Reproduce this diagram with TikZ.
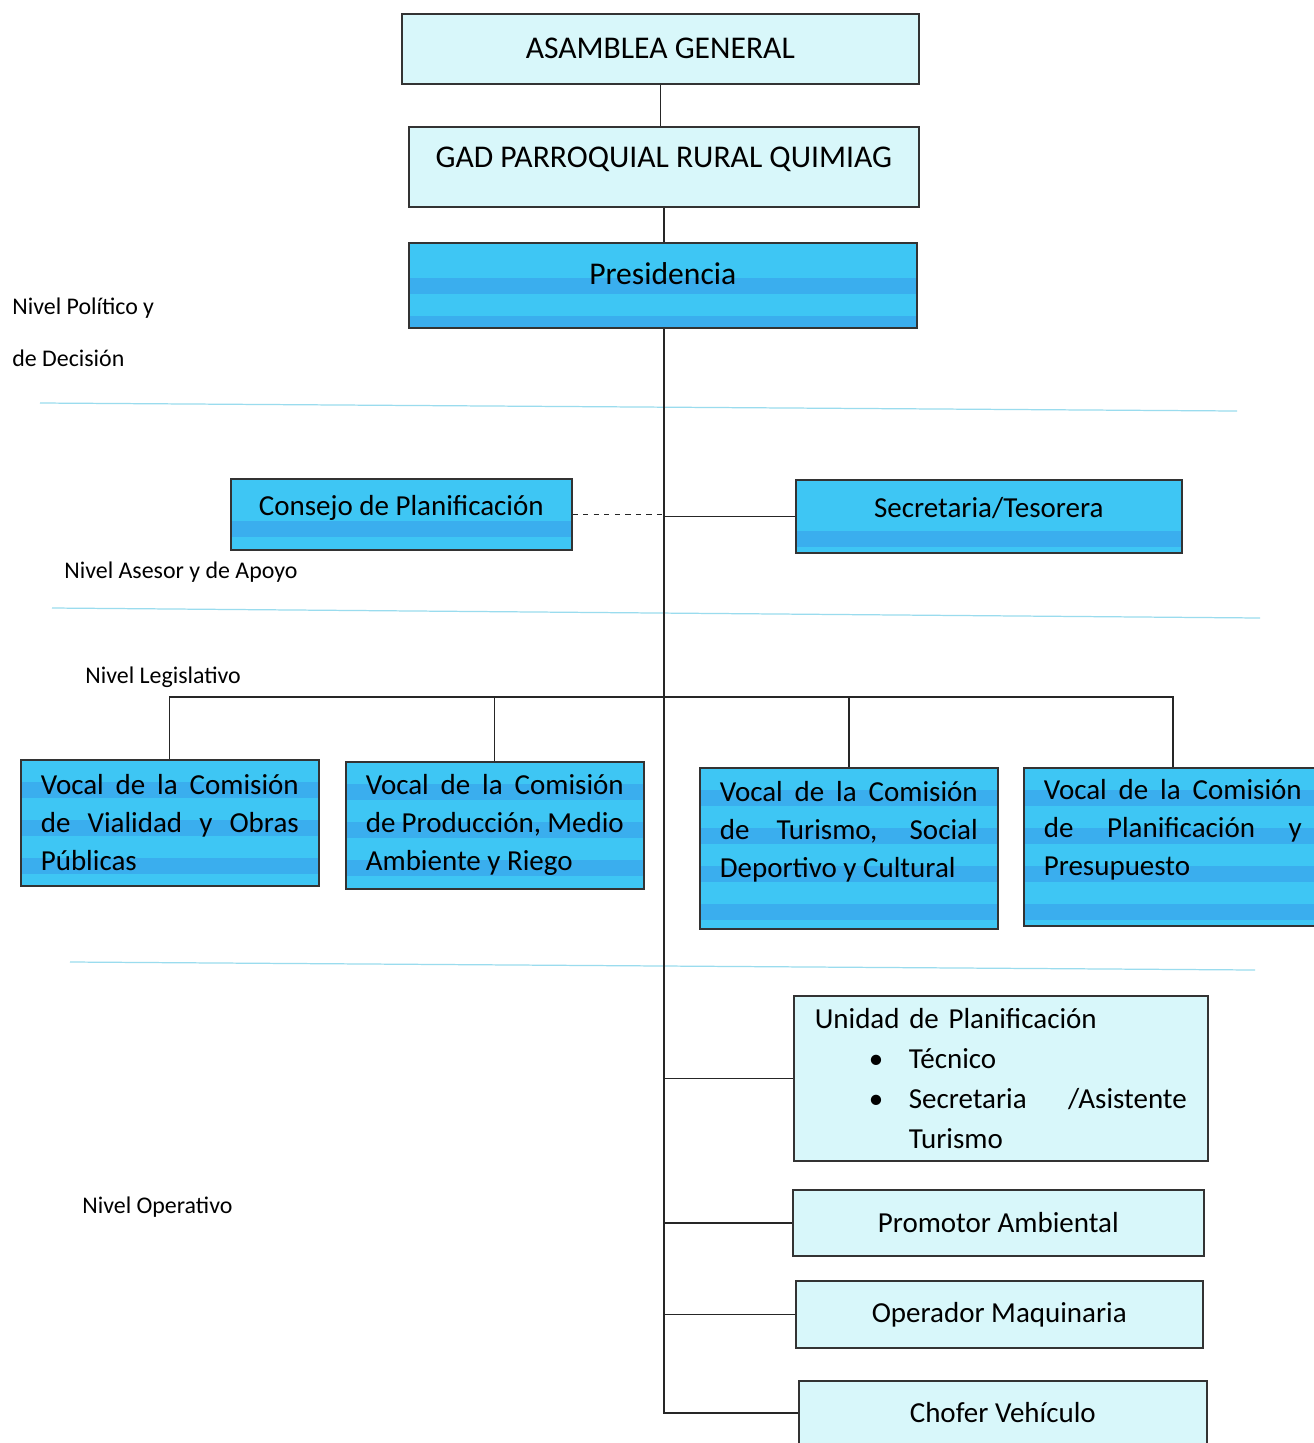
\documentclass[tikz,border=0pt]{standalone}
\usepackage{fontspec}
\setmainfont{Carlito}

\definecolor{celeste}{HTML}{3EC6F4}
\definecolor{franja}{HTML}{3AAEEE}
\definecolor{claro}{HTML}{D8F7FA}
\definecolor{nivelazul}{HTML}{9ADCEE}

\tikzset{
  caja/.style={draw=black!80, line width=0.9pt, inner sep=0pt, anchor=north west, text=black},
  cajaclara/.style={caja, fill=claro},
  cajaazul/.style={caja, fill=celeste, path picture={
      \foreach \k in {0,...,5}
        \fill[franja] ([yshift=-#1-\k*7.6mm]path picture bounding box.north west)
          rectangle ([yshift=-#1-\k*7.6mm-3.2mm]path picture bounding box.north east);}},
  cajaazul/.default=4.4mm,
  titulo/.style={font=\fontsize{18}{22}\selectfont},
  texto/.style={font=\fontsize{16.5}{21.6}\selectfont},
  vocal/.style={cajaazul, texto, text width=51.6mm, inner xsep=4mm, align=justify},
  nivel/.style={anchor=west, align=left, inner xsep=0pt, font=\fontsize{13.6}{29.6}\selectfont},
  linea/.style={line width=0.8pt, black!85},
  separador/.style={nivelazul, line width=0.7pt}
}

\begin{document}
\begin{tikzpicture}[x=0.2mm, y=-0.2mm]
  \path[use as bounding box, fill=white] (0,0) rectangle (1314,1443);
  %%%%%%%%%%%%%%%%%%%%%%%%%%%%%%%% niveles
  \draw[separador] (40,403) -- (1237,411);
  \draw[separador] (52,608) -- (1260,618);
  \draw[separador] (70,962) -- (1255,970);
  \node[nivel] (politico) at (12,332) {Nivel Político y\\de Decisión};
  \node[nivel] (asesor) at (64,572) {Nivel Asesor y de Apoyo};
  \node[nivel] (legislativo) at (85,677) {Nivel Legislativo};
  \node[nivel] (operativo) at (82,1207) {Nivel Operativo};
  %%%%%%%%%%%%%%%%%%%%%%%%%%%%%%%% direccion
  \node[cajaclara, titulo, minimum width=103.4mm, minimum height=14mm] (asamblea) at (401,13) {ASAMBLEA GENERAL};
  \node[cajaclara, titulo, minimum width=102mm, minimum height=16mm, text depth=3.8mm] (gad) at (408,126) {GAD PARROQUIAL RURAL QUIMIAG};
  \node[cajaazul=7mm, titulo, minimum width=101.6mm, minimum height=17mm, text depth=4.8mm] (presid) at (408,242) {Presidencia};
  \node[cajaazul=8.4mm, texto, minimum width=68.2mm, minimum height=14.2mm, text depth=3.6mm] (consejo) at (230,478) {Consejo de Planificación};
  \node[cajaazul=10.2mm, texto, minimum width=77.2mm, minimum height=14.6mm, text depth=3.6mm] (secret) at (795,479) {Secretaria/Tesorera};
  %%%%%%%%%%%%%%%%%%%%%%%%%%%%%%%% vocales
  \node[vocal, minimum height=25.2mm] (vocal1) at (20,759) {Vocal de la Comisión\linebreak de Vialidad y Obras\linebreak Públicas};
  \node[vocal, minimum height=25.4mm] (vocal2) at (345,761) {Vocal de la Comisión\linebreak de Producción, Medio\linebreak Ambiente y Riego};
  \node[vocal, minimum height=32.2mm] (vocal3) at (699,767) {Vocal de la Comisión\linebreak de Turismo, Social\linebreak Deportivo y Cultural\par\mbox{}};
  \node[vocal, minimum height=31.6mm] (vocal4) at (1023,767) {Vocal de la Comisión\linebreak de Planificación y\linebreak Presupuesto\par\mbox{}};
  %%%%%%%%%%%%%%%%%%%%%%%%%%%%%%%% operativo
  \node[cajaclara, font=\fontsize{16.5}{22.8}\selectfont, text width=74.4mm, inner xsep=4.2mm, align=left, minimum height=33mm] (unidad) at (793,995)
    {Unidad de Planificación\\
     \hspace*{10.8mm}\makebox[8mm][l]{\textbullet}Técnico\\
     \hspace*{10.8mm}\makebox[8mm][l]{\textbullet}Secretaria\hfill/Asistente\\
     \hspace*{18.8mm}Turismo};
  \node[cajaclara, texto, minimum width=82.2mm, minimum height=13.2mm] (promotor) at (792,1189) {Promotor Ambiental};
  \node[cajaclara, texto, minimum width=81.4mm, minimum height=13.4mm] (operador) at (795,1280) {Operador Maquinaria};
  \node[cajaclara, texto, minimum width=81.6mm, minimum height=12.8mm] (chofer) at (798,1380) {Chofer Vehículo};
  %%%%%%%%%%%%%%%%%%%%%%%%%%%%%%%% lineas
  \coordinate (tronco) at (664,1412);
  \coordinate (bus) at (664,697);
  \draw[linea] (asamblea.south) -- (asamblea.south |- gad.north);
  \draw[linea] (gad.south) -- (gad.south |- presid.north);
  \draw[linea] (presid.south -| tronco) |- (chofer.west);
  \draw[linea, dashed] (consejo.east) -- (consejo.east -| tronco);
  \draw[linea] (secret.west) -- (secret.west -| tronco);
  \draw[linea] (vocal1.north) |- (bus) -| (vocal4.north);
  \draw[linea] (vocal2.north) -- (vocal2.north |- bus);
  \draw[linea] (vocal3.north) -- (vocal3.north |- bus);
  \draw[linea] (unidad.west) -- (unidad.west -| tronco);
  \draw[linea] (promotor.west) -- (promotor.west -| tronco);
  \draw[linea] (operador.west) -- (operador.west -| tronco);
\end{tikzpicture}
\end{document}
